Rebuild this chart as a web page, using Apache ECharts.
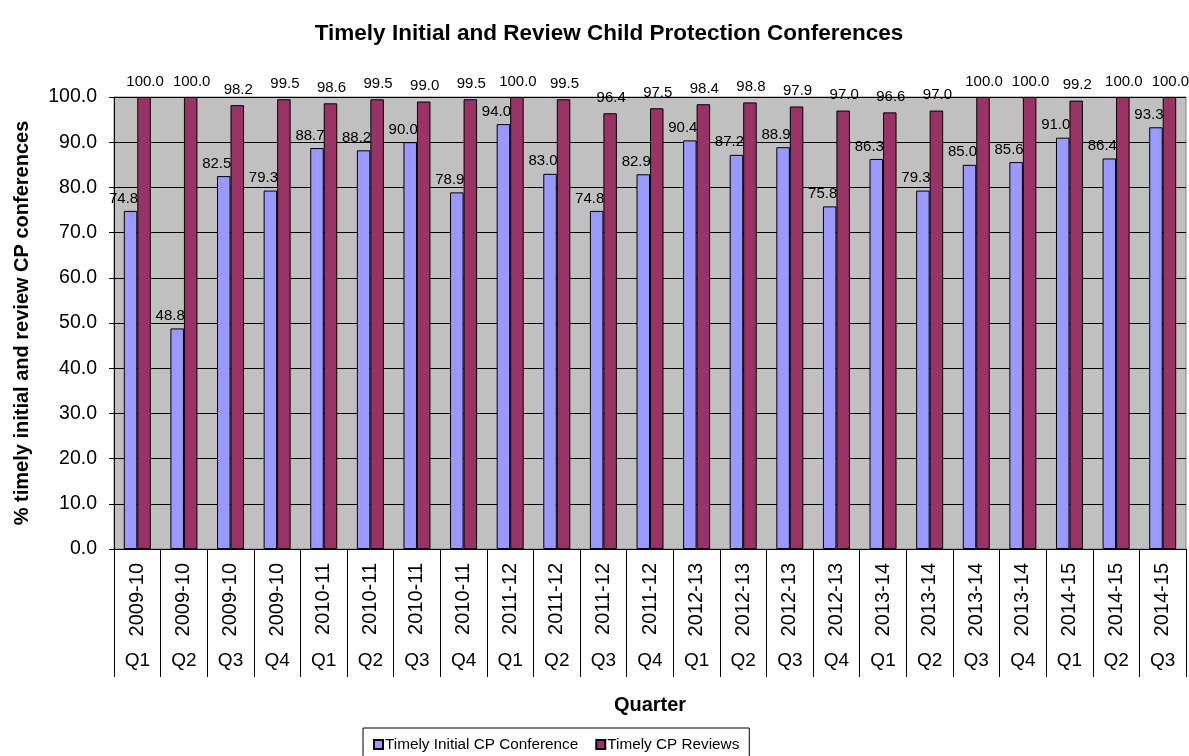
<!DOCTYPE html>
<html>
<head>
<meta charset="utf-8">
<script src="https://cdn.jsdelivr.net/npm/echarts@6/dist/echarts.min.js"></script>
<style>
html,body{margin:0;padding:0;background:#fff;}
#chart{width:1189px;height:756px;}
</style>
</head>
<body>
<div id="chart"></div>
<script>
var years = ['2009-10','2009-10','2009-10','2009-10','2010-11','2010-11','2010-11','2010-11','2011-12','2011-12','2011-12','2011-12','2012-13','2012-13','2012-13','2012-13','2013-14','2013-14','2013-14','2013-14','2014-15','2014-15','2014-15'];
var quarters = ['Q1','Q2','Q3','Q4','Q1','Q2','Q3','Q4','Q1','Q2','Q3','Q4','Q1','Q2','Q3','Q4','Q1','Q2','Q3','Q4','Q1','Q2','Q3'];
var initialCP = [74.8,48.8,82.5,79.3,88.7,88.2,90.0,78.9,94.0,83.0,74.8,82.9,90.4,87.2,88.9,75.8,86.3,79.3,85.0,85.6,91.0,86.4,93.3];
var reviewsCP = [100.0,100.0,98.2,99.5,98.6,99.5,99.0,99.5,100.0,99.5,96.4,97.5,98.4,98.8,97.9,97.0,96.6,97.0,100.0,100.0,99.2,100.0,100.0];
var seriesNames = ['Timely Initial CP Conference','Timely CP Reviews'];

var FONT = '"Liberation Sans", Arial, sans-serif';
var chart = echarts.init(document.getElementById('chart'), null, {renderer:'canvas'});
var fmt = function(p){ return Number(p.value).toFixed(1); };
chart.setOption({
  animation:false,
  backgroundColor:'#ffffff',
  textStyle:{fontFamily:FONT,color:'#000'},
  title:{
    text:'Timely Initial and Review Child Protection Conferences',
    left:604, top:17, textAlign:'center',
    textStyle:{fontFamily:FONT,fontSize:22.5,fontWeight:'bold',color:'#000'}
  },
  legend:{
    data:seriesNames,
    left:363, top:728,
    orient:'horizontal',
    icon:'rect',
    itemWidth:9, itemHeight:9, itemGap:17,
    padding:[9,10,9,10],
    borderColor:'#000', borderWidth:1,
    textStyle:{fontFamily:FONT,fontSize:15.3,color:'#000',padding:[0,0,0,-3]}
  },
  grid:{
    left:114, right:3, top:97, bottom:207,
    show:true, backgroundColor:'#C0C0C0', borderColor:'#808080', borderWidth:1,
    containLabel:false
  },
  xAxis:[{
    type:'category',
    data:years,
    position:'bottom',
    axisLine:{show:true,lineStyle:{color:'#000',width:1}},
    axisTick:{show:true,interval:0,length:128,alignWithLabel:false,lineStyle:{color:'#000',width:1}},
    axisLabel:{interval:0,rotate:90,margin:14,fontFamily:FONT,fontSize:20,color:'#000'},
    splitLine:{show:false}
  },{
    type:'category',
    data:quarters,
    position:'bottom',
    offset:100,
    gridIndex:0,
    axisLine:{show:false},
    axisTick:{show:false},
    axisLabel:{interval:0,margin:2,fontFamily:FONT,fontSize:19,color:'#000'},
    name:'Quarter',
    nameLocation:'middle',
    nameGap:46,
    nameTextStyle:{fontFamily:FONT,fontSize:20,fontWeight:'bold',color:'#000'}
  }],
  yAxis:{
    type:'value',
    min:0, max:100, interval:10,
    name:'% timely initial and review CP conferences',
    nameLocation:'middle',
    nameGap:82,
    nameTextStyle:{fontFamily:FONT,fontSize:20,fontWeight:'bold',color:'#000'},
    axisLine:{show:true,lineStyle:{color:'#000',width:1}},
    axisTick:{show:true,length:5,lineStyle:{color:'#000'}},
    axisLabel:{margin:17,fontFamily:FONT,fontSize:19.5,color:'#000',formatter:function(v){return v.toFixed(1);}},
    splitLine:{show:true,lineStyle:{color:'#000',width:1}}
  },
  series:[{
    name:seriesNames[0],
    type:'bar',
    xAxisIndex:0,
    data:initialCP,
    barWidth:13.5,
    barGap:'0%',
    itemStyle:{color:'#9999FF',borderColor:'#000',borderWidth:1},
    label:{show:true,position:'top',distance:5,offset:[-7,0],fontFamily:FONT,fontSize:15,color:'#000',formatter:fmt}
  },{
    name:seriesNames[1],
    type:'bar',
    xAxisIndex:0,
    data:reviewsCP,
    barWidth:13.5,
    barGap:'0%',
    itemStyle:{color:'#993366',borderColor:'#000',borderWidth:1},
    label:{show:true,position:'top',distance:8,offset:[1,0],fontFamily:FONT,fontSize:15,color:'#000',formatter:fmt}
  }]
});
</script>
</body>
</html>
